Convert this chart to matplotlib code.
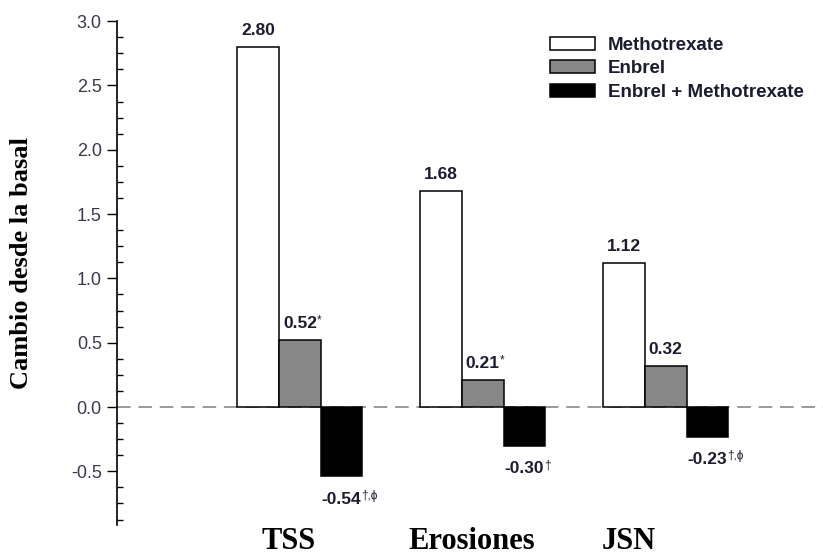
import numpy as np
import matplotlib.pyplot as plt
from matplotlib.ticker import MultipleLocator, AutoMinorLocator

categories = ["TSS", "Erosiones", "JSN"]
series_names = ["Methotrexate", "Enbrel", "Enbrel + Methotrexate"]
methotrexate = [2.80, 1.68, 1.12]
enbrel = [0.52, 0.21, 0.32]
combo = [-0.54, -0.30, -0.23]
methotrexate_marks = ["", "", ""]
enbrel_marks = ["*", "*", ""]
combo_marks = ["\u2020,\u03d5", "\u2020", "\u2020,\u03d5"]

sans = ["Liberation Sans", "DejaVu Sans"]
serif = ["Liberation Serif", "DejaVu Serif"]
txt_col = "#1c1c30"
tick_col = "#3a3a4c"

fig = plt.figure(figsize=(8.23, 5.57), dpi=100)
ax = fig.add_axes([0.1422, 0.0575, 1.0 - 0.1422, 0.962 - 0.0575])

x = np.arange(len(categories))
w = 0.228
series = [methotrexate, enbrel, combo]
marks = [methotrexate_marks, enbrel_marks, combo_marks]
fills = ["white", "#878787", "black"]

ax.axhline(0, color="#9a9a9a", lw=1.4, ls=(0, (7, 4)), zorder=1)

for k, (vals, fc, name, mk) in enumerate(zip(series, fills, series_names, marks)):
    pos = x + (k - 1) * w
    ax.bar(pos, vals, w, color=fc, edgecolor="black", linewidth=1.1,
           label=name, zorder=2)
    for xp, v, m in zip(pos, vals, mk):
        dy = 8.5 if v >= 0 else -20
        t = ax.annotate(f"{v:.2f}", (xp, v), xytext=(0, dy),
                        textcoords="offset points", ha="center",
                        va="baseline", fontsize=12.5, fontweight="bold",
                        family=sans, color=txt_col)
        if m:
            ax.annotate(m, xy=(1.0, 0.35), xycoords=t, ha="left",
                        va="bottom", fontsize=8.5, family=sans,
                        color=txt_col)

ax.set_xlim(-1.0, 2.86)
ax.set_ylim(-0.917, 3.0)
ax.yaxis.set_major_locator(MultipleLocator(0.5))
ax.yaxis.set_minor_locator(AutoMinorLocator(4))
ax.yaxis.set_major_formatter(plt.FuncFormatter(lambda v, p: f"{v:.1f}"))
ax.tick_params(axis="y", which="major", length=7, width=1, pad=4,
               labelsize=13, labelcolor=tick_col)
ax.tick_params(axis="y", which="minor", direction="in", length=4, width=1)
for lab in ax.get_yticklabels():
    lab.set_family(sans)
ax.set_xticks([])
for s in ["top", "right", "bottom"]:
    ax.spines[s].set_visible(False)
ax.spines["left"].set_linewidth(1.2)

# category names sit under the groups, JSN a bit left as in the source
label_shift = [-0.06, -0.06, -0.2]
for i, (c, d) in enumerate(zip(categories, label_shift)):
    ax.text(x[i] + d, -0.047, c, transform=ax.get_xaxis_transform(),
            ha="center", va="baseline", fontsize=22, fontweight="bold",
            family=serif, color="black")

fig.text(22 / 823, 1 - 263 / 557, "Cambio desde la basal", rotation=90,
         ha="center", va="center", fontsize=19, fontweight="bold",
         family=serif)

leg = ax.legend(loc="upper left", bbox_to_anchor=(550 / 823, 1 - 37 / 557),
                bbox_transform=fig.transFigure, frameon=False,
                borderpad=0, borderaxespad=0, handlelength=2.4,
                handleheight=0.7, labelspacing=0.33, handletextpad=0.7,
                prop={"family": sans, "weight": "bold", "size": 13.5})
for t in leg.get_texts():
    t.set_color(txt_col)

fig.savefig("out.png", dpi=100)
